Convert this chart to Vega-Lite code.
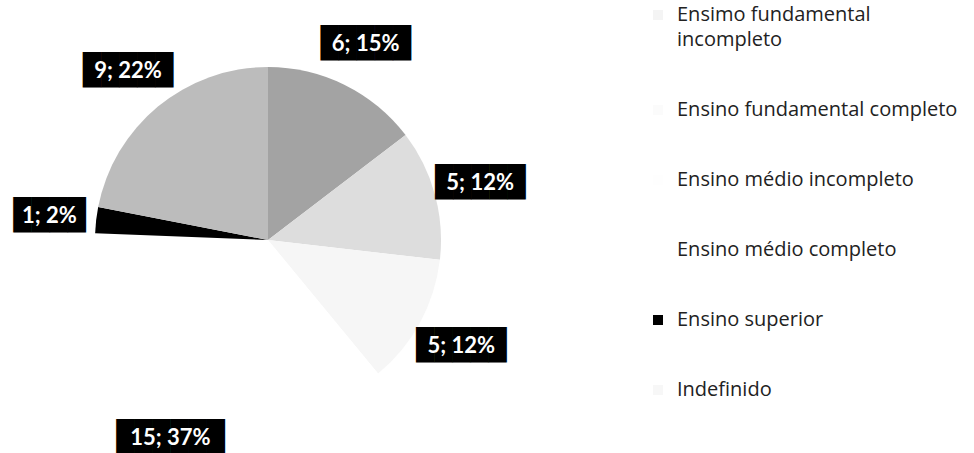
{
  "$schema": "https://vega.github.io/schema/vega-lite/v6.json",
  "width": 536,
  "height": 480,
  "padding": 0,
  "autosize": {"type": "pad"},
  "background": "white",
  "config": {"view": {"stroke": null}},
  "data": {
    "values": [
      {"categoria": "Ensimo fundamental incompleto", "ordem": 1, "n": 6, "rotulo": "6; 15%"},
      {"categoria": "Ensino fundamental completo", "ordem": 2, "n": 5, "rotulo": "5; 12%"},
      {"categoria": "Ensino médio incompleto", "ordem": 3, "n": 5, "rotulo": "5; 12%"},
      {"categoria": "Ensino médio completo", "ordem": 4, "n": 15, "rotulo": "15; 37%"},
      {"categoria": "Ensino superior", "ordem": 5, "n": 1, "rotulo": "1; 2%"},
      {"categoria": "Indefinido", "ordem": 6, "n": 9, "rotulo": "9; 22%"}
    ]
  },
  "encoding": {
    "theta": {"field": "n", "type": "quantitative", "stack": true},
    "order": {"field": "ordem", "type": "quantitative"},
    "detail": {"field": "categoria", "type": "nominal"}
  },
  "layer": [
    {
      "mark": {"type": "arc", "outerRadius": 173},
      "encoding": {
        "color": {
          "field": "categoria",
          "type": "nominal",
          "sort": ["Ensimo fundamental incompleto", "Ensino fundamental completo", "Ensino médio incompleto", "Ensino médio completo", "Ensino superior", "Indefinido"],
          "scale": {
            "domain": ["Ensimo fundamental incompleto", "Ensino fundamental completo", "Ensino médio incompleto", "Ensino médio completo", "Ensino superior", "Indefinido"],
            "range": ["#a3a3a3", "#dddddd", "#f6f6f6", "#ffffff", "#000000", "#bcbcbc"]
          },
          "legend": {
            "title": null,
            "orient": "right",
            "offset": 107,
            "padding": 5,
            "symbolType": "square",
            "symbolSize": 100,
            "symbolStrokeWidth": 0,
            "labelFont": "Open Sans",
            "labelFontSize": 20,
            "labelColor": "#222222",
            "labelOffset": 9,
            "labelLimit": 400,
            "rowPadding": 50,
            "labelExpr": "datum.label == 'Ensimo fundamental incompleto' ? ['Ensimo fundamental', 'incompleto'] : datum.label",
            "encode": {
              "symbols": {"update": {"fillOpacity": {"signal": "datum.value === 'Ensino superior' ? 1 : 0.12"}}},
              "labels": {"update": {"lineHeight": {"value": 25}}}
            }
          }
        }
      }
    },
    {
      "mark": {"type": "text", "radius": 220, "font": "DejaVu Sans Mono", "fontSize": 30, "fill": "black", "dy": 1},
      "encoding": {
        "text": {
          "condition": [
            {"test": "datum.ordem == 4", "value": "██████"},
            {"test": "datum.ordem == 5", "value": "████"}
          ],
          "value": "█████"
        }
      }
    },
    {
      "mark": {"type": "text", "radius": 220, "font": "Lato", "fontSize": 22, "fontWeight": "bold", "fill": "white", "dy": 1},
      "encoding": {"text": {"field": "rotulo", "type": "nominal"}}
    }
  ]
}
